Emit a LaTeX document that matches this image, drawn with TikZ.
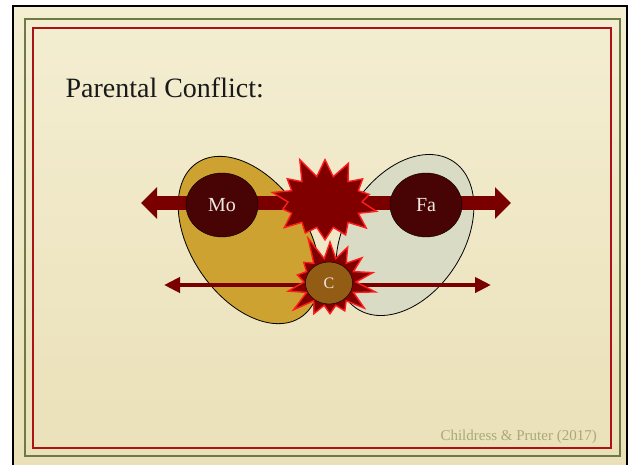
\documentclass[tikz,border=0pt]{standalone}
\usepackage{fontspec}
\setmainfont{Liberation Serif}
\usetikzlibrary{shapes, arrows.meta, positioning}
\definecolor{parchment}{RGB}{244, 238, 210}
\definecolor{parchdark}{RGB}{234, 224, 184}
\definecolor{frameolive}{RGB}{110, 122, 70}
\definecolor{framered}{RGB}{170, 20, 20}
\definecolor{mogold}{RGB}{205, 162, 48}
\definecolor{fagrey}{RGB}{218, 219, 196}
\definecolor{burstred}{RGB}{128, 0, 0}
\definecolor{burstedge}{RGB}{255, 28, 28}
\definecolor{parentbrown}{RGB}{72, 4, 4}
\definecolor{childbrown}{RGB}{146, 92, 20}
\definecolor{arrowred}{RGB}{122, 0, 0}
\definecolor{citegreen}{RGB}{168, 170, 120}
\definecolor{labelwhite}{RGB}{240, 232, 226}

\tikzset{
  parent/.style={ellipse, draw=black, fill=parentbrown, minimum width=72pt, minimum height=64pt, inner sep=0pt, text=labelwhite, font=\fontsize{20}{20}\selectfont},
  side/.style={ellipse, draw=black, line width=0.8pt, inner sep=0pt},
  burst/.style={starburst, draw=burstedge, fill=burstred, line width=1.4pt, inner sep=0pt, starburst points=14},
}

\begin{document}
\begin{tikzpicture}[x=1pt, y=-1pt]
  \useasboundingbox (0,0) rectangle (632,464);

  % Slide background and frames
  \fill[white] (0,0) rectangle (632,464);
  \shade[top color=parchment, bottom color=parchdark] (13,6) rectangle (627,470);
  \draw[black, line width=2.4pt] (13,470) -- (13,6) -- (627,6) -- (627,470);
  \draw[frameolive, line width=2.6pt] (25,19) rectangle (620,456);
  \draw[framered, line width=1.2pt] (33,28) rectangle (611,448);

  % Title
  \node[anchor=base west, font=\fontsize{28}{28}\selectfont, text=black!90] (title) at (62,97) {Parental Conflict:};

  % Family regions
  \node[side, fill=mogold, minimum width=186pt, minimum height=116pt, rotate=-56] (moside) at (249,240) {};
  \node[side, fill=fagrey, minimum width=176pt, minimum height=118pt, rotate=57] (faside) at (405,235) {};

  % Parents pulling apart
  \coordinate (bigL) at (141,203);
  \coordinate (bigR) at (511,203);
  \draw[arrowred, line width=14pt, {Triangle[width=31pt, length=16pt]}-{Triangle[width=31pt, length=16pt]}] (bigL) -- (bigR);
  \node[burst, minimum width=118pt, minimum height=96pt, starburst point height=22pt, random starburst=11] (conflict) at (325,202) {};
  \node[parent] (mo) at (222,205) {Mo};
  \node[parent] (fa) at (426,205) {Fa};

  % Child caught in between
  \coordinate (smallL) at (164,285);
  \coordinate (smallR) at (491,285);
  \draw[arrowred, line width=4pt, {Triangle[width=15pt, length=16pt]}-{Triangle[width=15pt, length=16pt]}] (smallL) -- (smallR);
  \node[burst, minimum width=104pt, minimum height=100pt, starburst point height=26pt, random starburst=5] (childburst) at (330,282) {};
  \node[ellipse, draw=black, fill=childbrown, minimum width=47pt, minimum height=42pt, inner sep=0pt, text=labelwhite, font=\fontsize{16}{16}\selectfont] (child) at (329,283) {C};

  % Source
  \node[anchor=base west, font=\fontsize{15}{15}\selectfont, text=citegreen] (source) at (437,440) {Childress \& Pruter (2017)};
\end{tikzpicture}
\end{document}
